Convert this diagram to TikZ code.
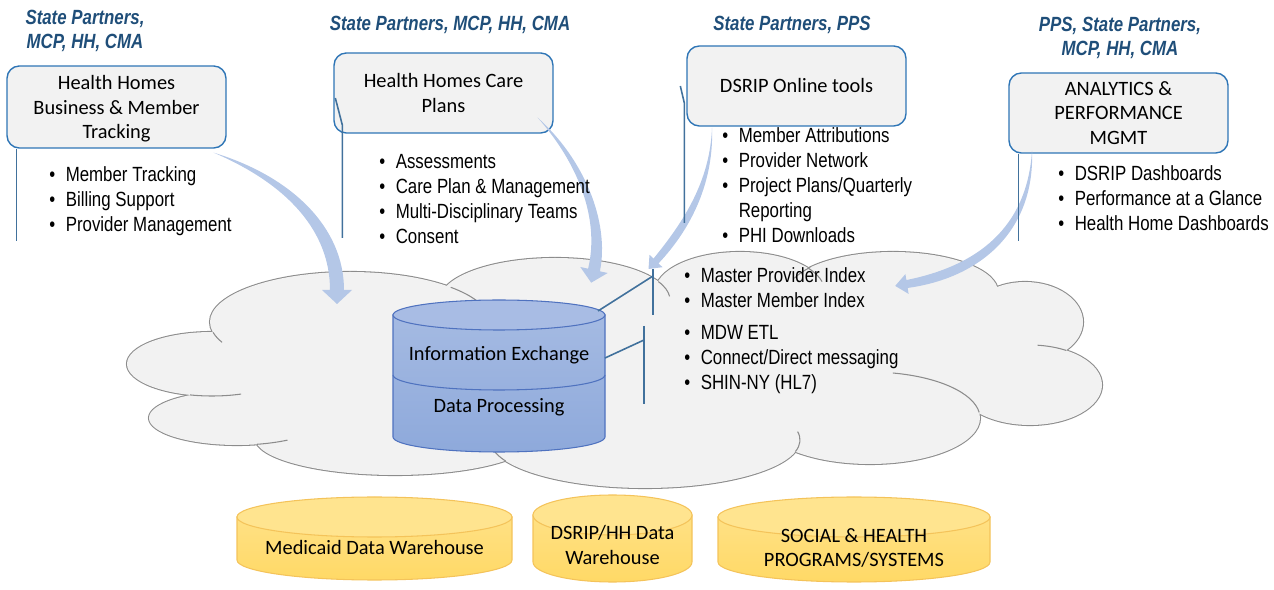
\documentclass[tikz,border=0pt]{standalone}
\usepackage{fontspec}
\setmainfont{Liberation Sans}
\newfontfamily\narrowfont[FakeStretch=0.82]{Liberation Sans}
\newfontfamily\calfont{Carlito}
\usetikzlibrary{calc}

\definecolor{hdrblue}{HTML}{1F4E79}
\definecolor{boxedge}{HTML}{2E75B6}
\definecolor{boxgray}{HTML}{F2F2F2}
\definecolor{baredge}{HTML}{41719C}
\definecolor{cloudgray}{HTML}{F2F2F2}
\definecolor{cloudedge}{HTML}{8C8C8C}
\definecolor{flowblue}{HTML}{B4C7E7}
\definecolor{dbbody}{HTML}{8EA9DB}
\definecolor{dbtop}{HTML}{A8BCE4}
\definecolor{dbedge}{HTML}{4F72BF}
\definecolor{whbody}{HTML}{FFD966}
\definecolor{whtop}{HTML}{FFE48F}
\definecolor{whedge}{HTML}{F4C35A}

% cylinder: centre x, x radius, lid y, base y, y radius, body, lid, edge
\newcommand{\dbcyl}[8]{%
  \path[draw=#8,line width=0.6pt,top color=#6!80!white,bottom color=#6]
    (#1-#2,#3) -- (#1-#2,#4) arc[start angle=180,end angle=0,x radius=#2,y radius=#5] -- (#1+#2,#3) -- cycle;
  \path[draw=#8,line width=0.6pt,fill=#7] (#1,#3) ellipse[x radius=#2,y radius=#5];
}
\newcommand{\items}[1]{\begin{tabular}{@{}l@{\hspace{6pt}}l@{}}#1\end{tabular}}

\begin{document}
\begin{tikzpicture}[
    x=0.02cm, y=-0.02cm,
    appbox/.style={rectangle,rounded corners=7pt,draw=boxedge,line width=0.8pt,fill=boxgray,minimum width=4.38cm,minimum height=1.6cm,align=center,font=\calfont\fontsize{11.6}{13.9}\selectfont},
    hdr/.style={align=center,text=hdrblue,inner sep=0pt,font=\narrowfont\bfseries\itshape\fontsize{11.7}{13.6}\selectfont},
    bullets/.style={anchor=north west,inner sep=0pt,font=\narrowfont\fontsize{11.7}{14.2}\selectfont},
    dblabel/.style={align=center,inner sep=0pt,font=\calfont\fontsize{11.6}{13.9}\selectfont},
    bracket/.style={draw=baredge,line width=0.9pt},
    flowarrow/.style={fill=flowblue},
    cloudline/.style={draw=cloudedge,line width=0.6pt},
    cloudfill/.style={fill=cloudgray}
]
    \useasboundingbox (0,0) rectangle (1274,590);

    % cloud: puffs, inner fill, puff tails
    \foreach \cx/\cy/\rx/\ry in {212/364/85/32, 237/418/88/27, 395/438/140/37, 645/440/155/48, 870/418/110/46, 1030/385/72/40, 1025/322/58/40, 893/292/105/40, 740/292/85/40, 555/300/115/42, 350/322/140/50}
        \draw[cloudline,line width=1.2pt] (\cx,\cy) ellipse [x radius=\rx,y radius=\ry];
    \foreach \cx/\cy/\rx/\ry in {212/364/85/32, 237/418/88/27, 395/438/140/37, 645/440/155/48, 870/418/110/46, 1030/385/72/40, 1025/322/58/40, 893/292/105/40, 740/292/85/40, 555/300/115/42, 350/322/140/50}
        \fill[cloudfill] (\cx,\cy) ellipse [x radius=\rx,y radius=\ry];
    \fill[cloudfill] (212,364) -- (350,322) -- (555,300) -- (740,292) -- (893,292) -- (1025,322) -- (1030,385) -- (870,418) -- (645,440) -- (395,438) -- (237,418) -- cycle;
    \foreach \cx/\cy/\rx/\ry/\sa/\ea in {212/364/85/32/105/70, 237/418/88/27/77/55, 645/440/155/48/154/172, 645/440/155/48/14/-10, 870/418/110/46/-78/-7, 1030/385/72/40/-60/-84, 740/292/85/40/-37/-15, 893/292/105/40/218/200, 555/300/115/42/-26/-5, 350/322/140/50/-44/-25, 350/322/140/50/168/156}
        \draw[cloudline] ({\cx+\rx*cos(\sa)},{\cy+\ry*sin(\sa)}) arc [start angle=\sa,end angle=\ea,x radius=\rx,y radius=\ry];

    % central store
    \dbcyl{499}{106}{315}{437}{15}{dbbody}{dbtop}{dbedge}
    \draw[dbedge,line width=0.6pt] (393,375) arc [start angle=180,end angle=0,x radius=106,y radius=15];
    \node[dblabel] (infoex) at (499,355) {Information Exchange};
    \node[dblabel] (dataproc) at (499,407) {Data Processing};

    % warehouses
    \dbcyl{374.5}{137.5}{517}{560}{20}{whbody}{whtop}{whedge}
    \dbcyl{612.5}{79.5}{515}{562}{20}{whbody}{whtop}{whedge}
    \dbcyl{854}{136}{517}{562}{20}{whbody}{whtop}{whedge}
    \node[dblabel] (mdw) at (374.5,547) {Medicaid Data Warehouse};
    \node[dblabel] (dsripdw) at (612.5,545) {DSRIP/HH Data\\Warehouse};
    \node[dblabel] (socsys) at (854,548) {SOCIAL \& HEALTH\\PROGRAMS/SYSTEMS};

    % applications
    \node[appbox,minimum height=1.64cm,text depth=0pt] (hhbiz) at (116.5,107) {Health Homes\\Business \& Member\\Tracking};
    \node[appbox] (hhcare) at (443.5,93) {Health Homes Care\\Plans};
    \node[appbox] (dsrip) at (796.5,86) {DSRIP Online tools};
    \node[appbox] (mgmt) at (1118.5,113) {ANALYTICS \&\\PERFORMANCE\\MGMT};

    % feeds into the cloud
    \coordinate (a1s) at ([shift={(-13,4)}]hhbiz.south east);
    \coordinate (a1e) at (337,290);
    \coordinate (a2s) at ([shift={(-16,-16)}]hhcare.south east);
    \coordinate (a2e) at (594,270);
    \coordinate (a3s) at ([shift={(-84.5,1)}]dsrip.south);
    \coordinate (a3e) at (656,261);
    \coordinate (a4s) at ([shift={(-86.5,-3)}]mgmt.south);
    \coordinate (a4e) at (907,284);
    \fill[flowarrow] (a1s) .. controls +(79,24) and +(0,-62) .. ($(a1e)+(7,0)$) -- ($(a1e)+(15,0)$) -- ($(a1e)+(0,14)$) -- ($(a1e)+(-15,0)$) -- ($(a1e)+(-7,0)$) .. controls +(0,-58) and +(75,32) .. (a1s) -- cycle;
    \fill[flowarrow] (a2s) .. controls +(46,41) and +(10,-50) .. ($(a2e)+(5.9,1.3)$) -- ($(a2e)+(13.7,3)$) -- ($(a2e)+(-2.8,12.7)$) -- ($(a2e)+(-13.7,-3)$) -- ($(a2e)+(-5.9,-1.3)$) .. controls +(12,-50) and +(40,45) .. (a2s) -- cycle;
    \fill[flowarrow] (a3s) .. controls +(2,53) and +(34,-36) .. ($(a3e)+(2.5,2.4)$) -- ($(a3e)+(6.5,6.2)$) -- ($(a3e)+(-7.5,8)$) -- ($(a3e)+(-6.5,-6.2)$) -- ($(a3e)+(-2.5,-2.4)$) .. controls +(31,-38) and +(-2,53) .. (a3s) -- cycle;
    \fill[flowarrow] (a4s) .. controls +(3,80) and +(73,-10) .. ($(a4e)+(0.65,3.95)$) -- ($(a4e)+(1.6,9.9)$) -- ($(a4e)+(-11.8,1.9)$) -- ($(a4e)+(-1.6,-9.9)$) -- ($(a4e)+(-0.65,-3.95)$) .. controls +(70,-14) and +(-5,78) .. (a4s) -- cycle;

    % brackets
    \draw[bracket] ([xshift=0.2cm]hhbiz.south west) -- ++(0,92);
    \draw[bracket] ([shift={(2,5)}]hhcare.west) -- ++(7,27) -- ++(0,113);
    \draw[bracket] ([xshift=-0.12cm]dsrip.west) -- ++(4,17) -- ++(0,120);
    \draw[bracket] ([xshift=0.2cm]mgmt.south west) -- ++(0,87);
    \coordinate (dbrim) at (598,311);
    \coordinate (dbside) at (605,358);
    \coordinate (mpibar) at (653,269);
    \coordinate (mdwbar) at (644,326);
    \draw[bracket] (mpibar) -- ++(0,46);
    \draw[bracket] (dbrim) -- ($(mpibar)+(0,7)$);
    \draw[bracket] (mdwbar) -- ++(0,78);
    \draw[bracket] (dbside) -- ($(mdwbar)+(0,14)$);

    % users
    \node[hdr] (bizusers) at (85,31) {State Partners,\\MCP, HH, CMA};
    \node[hdr] (careusers) at (450,25) {State Partners, MCP, HH, CMA};
    \node[hdr] (dsripusers) at (792,25) {State Partners, PPS};
    \node[hdr] (mgmtusers) at (1120,37.5) {PPS, State Partners,\\MCP, HH, CMA};

    % functions
    \node[bullets] (bizlist) at (49,164) {\items{\textbullet & Member Tracking\\ \textbullet & Billing Support\\ \textbullet & Provider Management}};
    \node[bullets] (carelist) at (379,151) {\items{\textbullet & Assessments\\ \textbullet & Care Plan \& Management\\ \textbullet & Multi-Disciplinary Teams\\ \textbullet & Consent}};
    \node[bullets] (dsriplist) at (722,125) {\items{\textbullet & Member Attributions\\ \textbullet & Provider Network\\ \textbullet & Project Plans/Quarterly\\ & Reporting\\ \textbullet & PHI Downloads}};
    \node[bullets] (mgmtlist) at (1058,163) {\items{\textbullet & DSRIP Dashboards\\ \textbullet & Performance at a Glance\\ \textbullet & Health Home Dashboards}};
    \node[bullets] (indexlist) at (684,265) {\items{\textbullet & Master Provider Index\\ \textbullet & Master Member Index}};
    \node[bullets] (xferlist) at (684,322) {\items{\textbullet & MDW ETL\\ \textbullet & Connect/Direct messaging\\ \textbullet & SHIN-NY (HL7)}};
\end{tikzpicture}
\end{document}
